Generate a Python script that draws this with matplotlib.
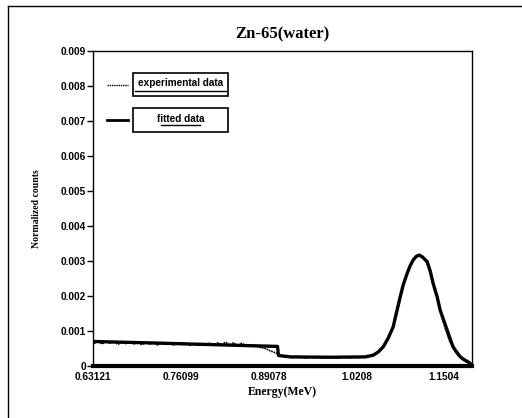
import matplotlib
matplotlib.use("Agg")
import matplotlib.pyplot as plt
from matplotlib.patches import Rectangle
from matplotlib.lines import Line2D
import numpy as np

# fitted curve (energy in MeV, normalized counts x1e-4)
fit_energy = [0.6327, 0.7168, 0.7905, 0.8642, 0.9040, 0.9055, 0.9232, 0.9822,
              1.0338, 1.0456, 1.0530, 1.0604, 1.0678, 1.0751, 1.0796, 1.0855,
              1.0899, 1.0958, 1.1003, 1.1047, 1.1091, 1.1135, 1.1180, 1.1253,
              1.1297, 1.1341, 1.1400, 1.1445, 1.1489, 1.1548, 1.1592, 1.1636,
              1.1681, 1.1740, 1.1799, 1.1857, 1.1916]
fit_counts = [7.0, 6.6, 6.2, 5.8, 5.6, 3.0, 2.6, 2.5,
              2.6, 3.1, 4.0, 5.5, 8.0, 11.2, 15.0, 19.8,
              23.2, 26.5, 28.7, 30.3, 31.3, 31.7, 31.2, 29.8,
              27.2, 23.6, 19.8, 16.0, 13.5, 10.3, 7.8, 5.5,
              4.2, 2.7, 1.8, 1.2, 0.3]

# experimental spectrum (channels evenly spaced, x1e-4)
exp_energy = np.linspace(0.6327, 1.1929, 96)
exp_counts = [6.4, 7.1, 6.3, 7.0, 6.5, 6.9, 6.2, 6.8, 6.4, 6.9,
              6.3, 6.8, 6.1, 6.7, 6.3, 6.6, 6.0, 6.6, 6.2, 6.5,
              6.0, 6.4, 6.1, 6.4, 5.9, 6.3, 5.9, 6.2, 6.0, 6.5,
              5.9, 6.6, 6.1, 6.8, 6.0, 6.6, 5.8, 6.5, 5.9, 6.1,
              5.7, 5.6, 5.2, 5.0, 4.4, 4.0, 3.5, 3.0, 2.6, 2.8,
              2.4, 2.7, 2.5, 2.3, 2.6, 2.4, 2.7, 2.3, 2.5, 2.4,
              2.6, 2.3, 2.5, 2.6, 2.3, 2.5, 2.4, 2.6, 2.5, 2.8,
              3.1, 3.8, 4.8, 6.4, 8.6, 11.3, 15.2, 20.3, 24.6, 28.0,
              30.4, 31.6, 31.5, 30.4, 28.0, 23.8, 19.6, 15.0, 11.0, 7.6,
              5.2, 3.4, 2.2, 1.4, 0.8, 0.3]

xticks = [0.63121, 0.76099, 0.89078, 1.0208, 1.1504]
xtick_labels = ["0.63121", "0.76099", "0.89078", "1.0208", "1.1504"]
yticks = [0, 0.001, 0.002, 0.003, 0.004, 0.005, 0.006, 0.007, 0.008, 0.009]
ytick_labels = ["0", "0.001", "0.002", "0.003", "0.004", "0.005", "0.006",
                "0.007", "0.008", "0.009"]

serif = "Liberation Serif"
sans = "Liberation Sans"

fig = plt.figure(figsize=(5.22, 4.18), dpi=100)
ax = fig.add_axes([93 / 522, 52 / 418, 379 / 522, 315 / 418])

ax.plot(fit_energy, np.array(fit_counts) * 1e-4, color="black", lw=2.4,
        solid_joinstyle="round", zorder=2)
ax.plot(exp_energy, np.array(exp_counts) * 1e-4, color="black", lw=1.2,
        ls=(0, (1, 0.5)), zorder=3)

ax.set_xlim(0.6327, 1.1916)
ax.set_ylim(0, 0.009)
ax.set_xticks(xticks)
ax.set_xticklabels(xtick_labels, fontfamily=sans, fontweight="bold", fontsize=7.3)
ax.set_yticks(yticks)
ax.set_yticklabels(ytick_labels, fontfamily=sans, fontweight="bold", fontsize=7.3)
ax.tick_params(axis="x", length=0, pad=4)
ax.tick_params(axis="y", length=4, width=1, pad=1)

for side in ["top", "right", "left"]:
    ax.spines[side].set_linewidth(1.0)
ax.spines["bottom"].set_linewidth(3)

ax.set_title("Zn-65(water)", fontfamily=serif, fontweight="bold", fontsize=12,
             pad=9)
ax.set_xlabel("Energy(MeV)", fontfamily=serif, fontweight="bold", fontsize=8.5,
              labelpad=3)
ax.set_ylabel("Normalized counts", fontfamily=serif, fontweight="bold",
              fontsize=7, labelpad=14)

# hand-drawn style legend boxes
ax.add_line(Line2D([0.037, 0.092], [0.892, 0.892], transform=ax.transAxes,
                   color="black", lw=1.0, ls=(0, (1, 0.6))))
ax.add_line(Line2D([0.037, 0.092], [0.781, 0.781], transform=ax.transAxes,
                   color="black", lw=2.0))
ax.add_patch(Rectangle((0.106, 0.857), 0.25, 0.073, transform=ax.transAxes,
                       fill=False, lw=1.2, ec="black"))
ax.add_patch(Rectangle((0.106, 0.743), 0.25, 0.076, transform=ax.transAxes,
                       fill=False, lw=1.2, ec="black"))
ax.text(0.231, 0.897, "experimental data", fontfamily=sans, fontweight="bold",
        transform=ax.transAxes, ha="center", va="center", fontsize=7.2)
ax.add_line(Line2D([0.112, 0.350], [0.873, 0.873], transform=ax.transAxes,
                   color="black", lw=1.0))
ax.text(0.231, 0.785, "fitted data", fontfamily=sans, fontweight="bold",
        transform=ax.transAxes, ha="center", va="center", fontsize=7.2)
ax.add_line(Line2D([0.180, 0.282], [0.764, 0.764], transform=ax.transAxes,
                   color="black", lw=1.0))

# outer frame
fig.add_artist(Line2D([8 / 522, 1.0], [1 - 6 / 418, 1 - 6 / 418],
                      transform=fig.transFigure, color="black", lw=1.0))
fig.add_artist(Line2D([8 / 522, 8 / 522], [0, 1 - 6 / 418],
                      transform=fig.transFigure, color="black", lw=1.0))

fig.savefig("out.png", dpi=100)
